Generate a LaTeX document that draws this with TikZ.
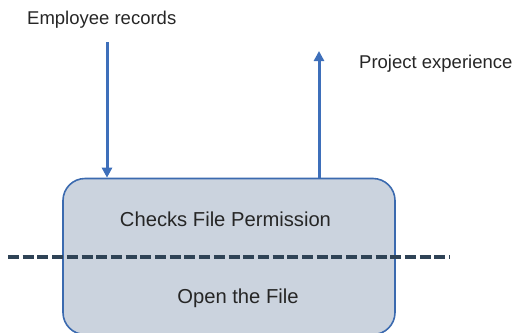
\documentclass[tikz,border=0pt]{standalone}
\usepackage{fontspec}
\setmainfont{Liberation Sans}
\usetikzlibrary{arrows.meta,positioning}
\definecolor{procfill}{RGB}{203,211,222}
\definecolor{procblue}{RGB}{59,106,175}
\definecolor{flowblue}{RGB}{62,111,186}
\definecolor{splitgray}{RGB}{47,67,86}

\begin{document}
\begin{tikzpicture}[x=1pt, y=-1pt,
  process/.style={rectangle, rounded corners=22pt, draw=procblue,
    line width=1.6pt, fill=procfill, minimum width=332pt, minimum height=156pt},
  txt/.style={font=\fontsize{18.5}{22}\selectfont, text=black!85, inner sep=0pt},
  intxt/.style={txt, font=\fontsize{20.2}{24}\selectfont},
  flow/.style={-{Triangle[length=10pt, width=10pt]}, line width=3pt, color=flowblue},
  split/.style={dash pattern=on 11pt off 3.7pt, line width=3.5pt, color=splitgray}
]
\useasboundingbox (0,0) rectangle (513,332);

% Process box
\node[process] (process) at (229,256.5) {};
\node[intxt] (check) at (225.5,219) {Checks File Permission};
\node[intxt] (open)  at (238,298) {Open the File};

% Divider
\coordinate (splitL) at (8,257);
\coordinate (splitR) at (450,257);
\draw[split] (splitL) -- (splitR);

% Data flows
\node[txt, anchor=west] (emp) at (27,20) {Employee records};
\node[txt, anchor=west] (proj) at (359,64) {Project experience};
\coordinate (empsrc) at (107,42);
\coordinate (projdst) at (319,51);
\draw[flow] (empsrc) -- (empsrc |- process.north);
\draw[flow] (projdst |- process.north) -- (projdst);

\end{tikzpicture}
\end{document}
